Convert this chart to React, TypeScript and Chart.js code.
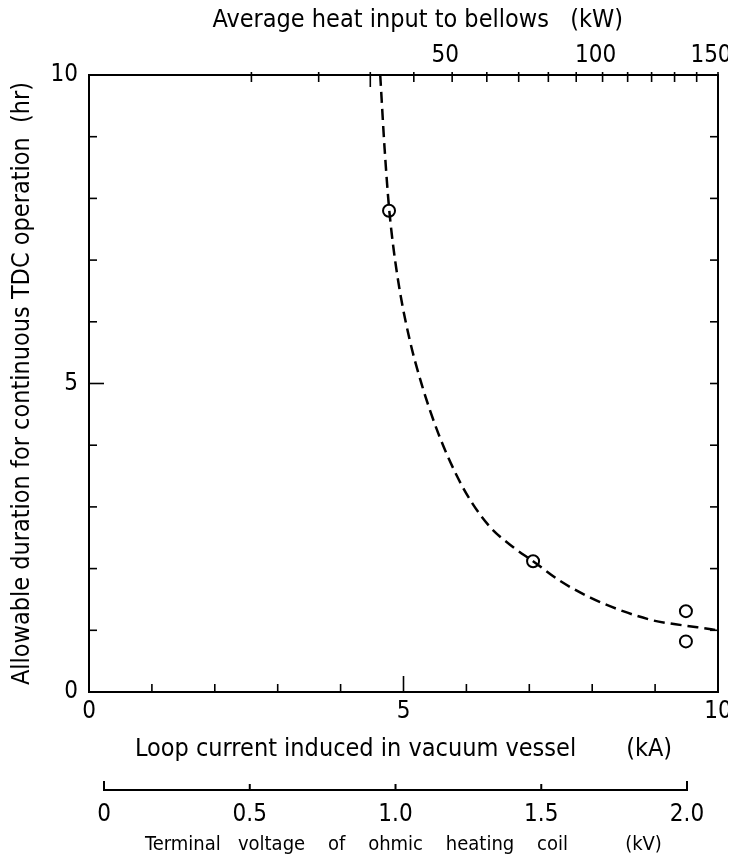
import React, { useEffect, useRef } from "react";
import { Chart, registerables } from "chart.js";

Chart.register(...registerables);

// ---- data ----
const CURVE_KA = [4.63, 4.7, 4.77, 4.84, 4.95, 5.1, 5.3, 5.55, 5.85, 6.1, 6.38, 6.74, 7.06, 7.49, 7.97, 8.49, 8.97, 9.24, 9.67, 10.0];
const CURVE_HR = [10.0, 8.8, 7.85, 7.2, 6.45, 5.7, 4.95, 4.2, 3.5, 3.05, 2.67, 2.35, 2.12, 1.8, 1.53, 1.31, 1.16, 1.11, 1.05, 1.0];
const POINT_KA = [4.77, 7.06, 9.49, 9.49];
const POINT_HR = [7.8, 2.12, 1.31, 0.82];

// ---- axis ticks ----
const KA_TICKS = [0, 1, 2, 3, 4, 5, 6, 7, 8, 9, 10];
const KA_LABELED = [0, 5, 10];
const HR_TICKS = [0, 1, 2, 3, 4, 5, 6, 7, 8, 9, 10];
const HR_LABELED = [0, 5, 10];
const KW_TICKS = [10, 20, 30, 40, 50, 60, 70, 80, 90, 100, 110, 120, 130, 140, 150];
const KW_LABELED = [50, 100, 150];
const KW_PER_KA2 = 1.5; // heat input P(kW) = 1.5 * I(kA)^2
const KV_TICKS = [0, 0.5, 1.0, 1.5, 2.0];
const KV_LABELS = ["0", "0.5", "1.0", "1.5", "2.0"];
const KV_MIN = -0.0515;
const KV_MAX = 2.1063;

const FONT = '"DejaVu Sans Condensed", "Liberation Sans Narrow", Roboto, sans-serif';

const framePlugin = {
  id: "frameTicks",
  afterDraw(chart: any) {
    const { ctx, chartArea: a, scales } = chart;
    ctx.save();
    ctx.strokeStyle = "#000";
    const line = (x1: number, y1: number, x2: number, y2: number) => {
      ctx.beginPath();
      ctx.moveTo(x1, y1);
      ctx.lineTo(x2, y2);
      ctx.stroke();
    };
    ctx.lineWidth = 2;
    ctx.strokeRect(a.left, a.top, a.right - a.left, a.bottom - a.top);
    ctx.lineWidth = 1.6;
    // bottom kA ticks (inward)
    KA_TICKS.forEach((v) => {
      const px = scales.x.getPixelForValue(v);
      const len = v === 5 ? 16 : 8;
      line(px, a.bottom, px, a.bottom - len);
    });
    // top kW ticks (inward)
    KW_TICKS.forEach((kw) => {
      const px = scales.xTop.getPixelForValue(Math.sqrt(kw / KW_PER_KA2));
      const len = kw === 30 ? 12 : 7;
      line(px, a.top - 3, px, a.top + len);
    });
    // left and right hr ticks
    HR_TICKS.forEach((v) => {
      const py = scales.y.getPixelForValue(v);
      const len = v === 5 ? 15 : 8;
      line(a.left, py, a.left + len, py);
      line(a.right, py, a.right - 8, py);
    });
    // kV axis line
    const kv = scales.xv;
    const y0 = kv.top + 22;
    const p0 = kv.getPixelForValue(KV_TICKS[0]);
    const p1 = kv.getPixelForValue(KV_TICKS[KV_TICKS.length - 1]);
    ctx.lineWidth = 2;
    line(p0, y0, p1, y0);
    KV_TICKS.forEach((v, i) => {
      const px = kv.getPixelForValue(v);
      const len = i === 0 || i === KV_TICKS.length - 1 ? 9 : 6;
      line(px, y0 + 1, px, y0 - len);
    });
    ctx.restore();
  },
};

export default function App() {
  const ref = useRef<HTMLCanvasElement | null>(null);

  useEffect(() => {
    if (!ref.current) return;
    const noPad = (s: any) => {
      s.paddingLeft = 0;
      s.paddingRight = 0;
      s.paddingTop = 0;
      s.paddingBottom = 0;
    };
    const chart = new Chart(ref.current, {
      type: "scatter",
      data: {
        datasets: [
          {
            label: "curve",
            data: CURVE_KA.map((x, i) => ({ x, y: CURVE_HR[i] })),
            showLine: true,
            borderColor: "#000",
            borderWidth: 2.5,
            borderDash: [11, 6],
            pointRadius: 0,
            cubicInterpolationMode: "monotone",
            xAxisID: "x",
            yAxisID: "y",
          },
          {
            label: "measured",
            data: POINT_KA.map((x, i) => ({ x, y: POINT_HR[i] })),
            showLine: false,
            pointRadius: 6,
            pointStyle: "circle",
            backgroundColor: "#fff",
            borderColor: "#000",
            borderWidth: 2,
            xAxisID: "x",
            yAxisID: "y",
          },
        ],
      } as any,
      options: {
        animation: false,
        responsive: false,
        layout: { padding: { left: 0, right: 18, top: 0, bottom: 0 } },
        plugins: { legend: { display: false }, tooltip: { enabled: false } },
        scales: {
          x: {
            type: "linear",
            position: "bottom",
            weight: 0,
            min: 0,
            max: 10,
            afterBuildTicks: (s: any) => {
              s.ticks = KA_TICKS.map((v) => ({ value: v }));
            },
            afterFit: (s: any) => {
              s.height = 76;
              noPad(s);
            },
            grid: { display: false, drawTicks: false },
            border: { display: false },
            ticks: {
              autoSkip: false,
              maxRotation: 0,
              padding: 5,
              color: "#000",
              font: { family: FONT, size: 24, lineHeight: 1.2 },
              callback: (v: any) => (KA_LABELED.includes(v) ? String(v) : ""),
            },
            title: {
              display: true,
              text: "Loop current induced in vacuum vessel       (kA)",
              color: "#000",
              font: { family: FONT, size: 25, lineHeight: 1.2 },
              padding: { top: 0, bottom: 4 },
            },
          },
          xv: {
            type: "linear",
            position: "bottom",
            weight: 1,
            min: KV_MIN,
            max: KV_MAX,
            afterBuildTicks: (s: any) => {
              s.ticks = KV_TICKS.map((v) => ({ value: v }));
            },
            afterFit: (s: any) => {
              s.height = 95;
              noPad(s);
            },
            grid: { display: false, drawTicks: false },
            border: { display: false },
            ticks: {
              autoSkip: false,
              maxRotation: 0,
              padding: 32,
              color: "#000",
              font: { family: FONT, size: 24, lineHeight: 1.2 },
              callback: (_v: any, i: number) => KV_LABELS[i],
            },
            title: {
              display: true,
              text: "Terminal   voltage    of    ohmic    heating    coil          (kV)",
              color: "#000",
              font: { family: FONT, size: 20, lineHeight: 1.2 },
              padding: { top: 0, bottom: 6 },
            },
          },
          xTop: {
            type: "linear",
            position: "top",
            min: 0,
            max: 10,
            afterBuildTicks: (s: any) => {
              s.ticks = KW_TICKS.map((kw) => ({ value: Math.sqrt(kw / KW_PER_KA2) }));
            },
            afterFit: (s: any) => {
              s.height = 75;
              noPad(s);
            },
            grid: { display: false, drawTicks: false },
            border: { display: false },
            ticks: {
              autoSkip: false,
              maxRotation: 0,
              padding: 5,
              labelOffset: -7,
              color: "#000",
              font: { family: FONT, size: 24, lineHeight: 1.2 },
              callback: (_v: any, i: number) => (KW_LABELED.includes(KW_TICKS[i]) ? String(KW_TICKS[i]) : ""),
            },
            title: {
              display: true,
              text: "    Average heat input to bellows   (kW)",
              color: "#000",
              font: { family: FONT, size: 25, lineHeight: 1.2 },
              padding: { top: 5, bottom: 0 },
            },
          },
          y: {
            type: "linear",
            position: "left",
            min: 0,
            max: 10,
            afterBuildTicks: (s: any) => {
              s.ticks = HR_TICKS.map((v) => ({ value: v }));
            },
            afterFit: (s: any) => {
              s.width = 89;
              noPad(s);
            },
            grid: { display: false, drawTicks: false },
            border: { display: false },
            ticks: {
              autoSkip: false,
              padding: 11,
              color: "#000",
              font: { family: FONT, size: 24, lineHeight: 1.2 },
              callback: (v: any) => (HR_LABELED.includes(v) ? String(v) : ""),
            },
            title: {
              display: true,
              text: "Allowable duration for continuous TDC operation  (hr)",
              color: "#000",
              font: { family: FONT, size: 25, lineHeight: 1.2 },
              padding: { top: 7, bottom: 0 },
            },
          },
        },
      } as any,
      plugins: [framePlugin],
    });
    return () => chart.destroy();
  }, []);

  return (
    <div style={{ margin: -8, width: 736, height: 863 }}>
      <canvas ref={ref} width={736} height={863} style={{ display: "block", width: 736, height: 863 }} />
    </div>
  );
}
